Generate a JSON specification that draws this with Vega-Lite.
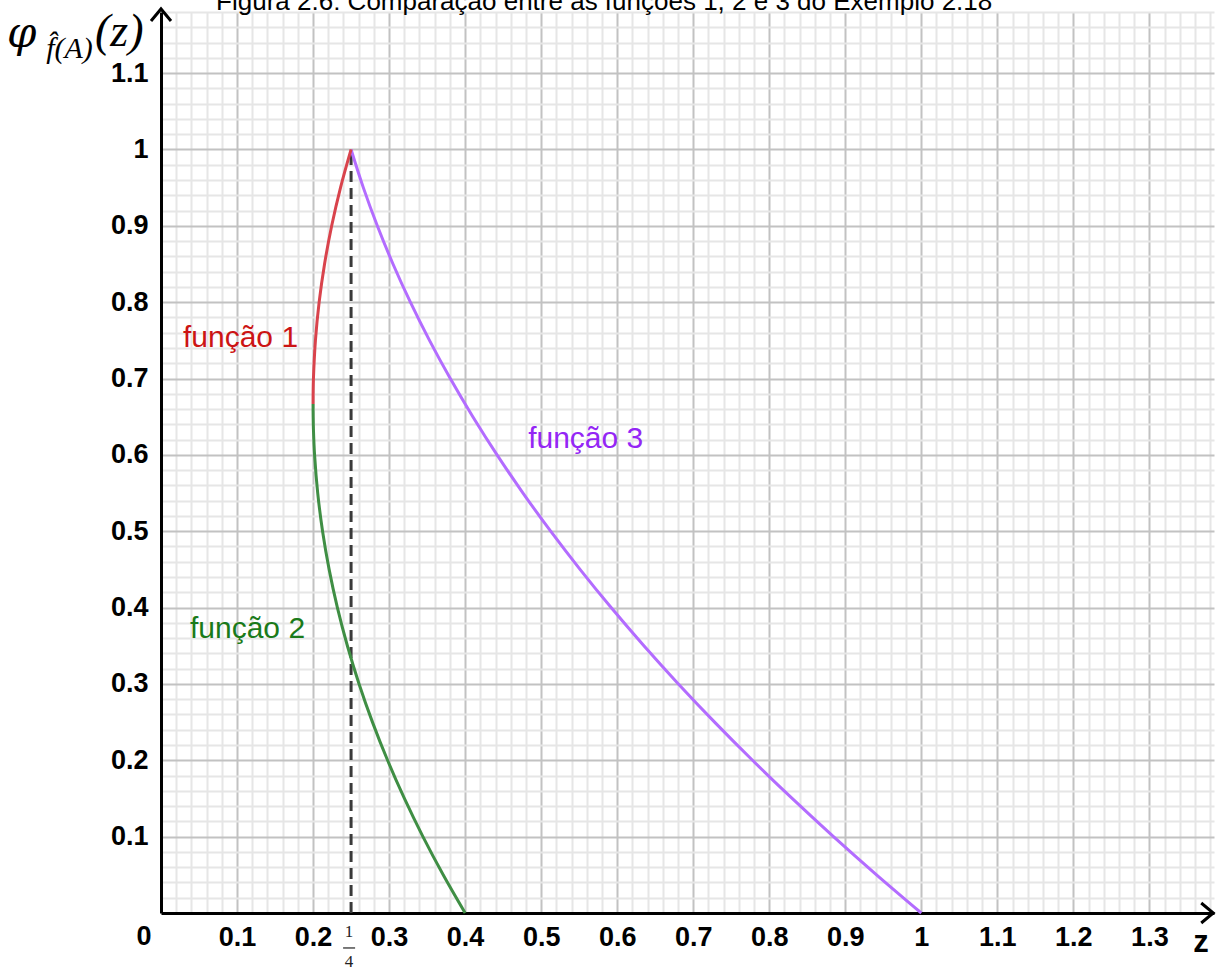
{
  "$schema": "https://vega.github.io/schema/vega-lite/v6.json",
  "width": 1053,
  "height": 901,
  "autosize": {"type": "none"},
  "padding": {"left": 161, "top": 12, "right": 8, "bottom": 57},
  "background": "white",
  "config": {"view": {"stroke": null}},
  "datasets": {
    "curves": [
      {"fn": "função 3", "z": 1, "phi": 0},
      {"fn": "função 3", "z": 0.94113, "phi": 0.05},
      {"fn": "função 3", "z": 0.8845, "phi": 0.1},
      {"fn": "função 3", "z": 0.83013, "phi": 0.15},
      {"fn": "função 3", "z": 0.778, "phi": 0.2},
      {"fn": "função 3", "z": 0.72813, "phi": 0.25},
      {"fn": "função 3", "z": 0.6805, "phi": 0.3},
      {"fn": "função 3", "z": 0.63513, "phi": 0.35},
      {"fn": "função 3", "z": 0.592, "phi": 0.4},
      {"fn": "função 3", "z": 0.55113, "phi": 0.45},
      {"fn": "função 3", "z": 0.5125, "phi": 0.5},
      {"fn": "função 3", "z": 0.47613, "phi": 0.55},
      {"fn": "função 3", "z": 0.442, "phi": 0.6},
      {"fn": "função 3", "z": 0.41013, "phi": 0.65},
      {"fn": "função 3", "z": 0.3805, "phi": 0.7},
      {"fn": "função 3", "z": 0.35313, "phi": 0.75},
      {"fn": "função 3", "z": 0.328, "phi": 0.8},
      {"fn": "função 3", "z": 0.30513, "phi": 0.85},
      {"fn": "função 3", "z": 0.2845, "phi": 0.9},
      {"fn": "função 3", "z": 0.26613, "phi": 0.95},
      {"fn": "função 3", "z": 0.25, "phi": 1},
      {"fn": "função 1", "z": 0.2, "phi": 0.6667},
      {"fn": "função 1", "z": 0.200125, "phi": 0.6833},
      {"fn": "função 1", "z": 0.2005, "phi": 0.7},
      {"fn": "função 1", "z": 0.203125, "phi": 0.75},
      {"fn": "função 1", "z": 0.208, "phi": 0.8},
      {"fn": "função 1", "z": 0.215125, "phi": 0.85},
      {"fn": "função 1", "z": 0.2245, "phi": 0.9},
      {"fn": "função 1", "z": 0.236125, "phi": 0.95},
      {"fn": "função 1", "z": 0.25, "phi": 1},
      {"fn": "função 2", "z": 0.4, "phi": 0},
      {"fn": "função 2", "z": 0.371125, "phi": 0.05},
      {"fn": "função 2", "z": 0.3445, "phi": 0.1},
      {"fn": "função 2", "z": 0.320125, "phi": 0.15},
      {"fn": "função 2", "z": 0.298, "phi": 0.2},
      {"fn": "função 2", "z": 0.278125, "phi": 0.25},
      {"fn": "função 2", "z": 0.2605, "phi": 0.3},
      {"fn": "função 2", "z": 0.245125, "phi": 0.35},
      {"fn": "função 2", "z": 0.232, "phi": 0.4},
      {"fn": "função 2", "z": 0.221125, "phi": 0.45},
      {"fn": "função 2", "z": 0.2125, "phi": 0.5},
      {"fn": "função 2", "z": 0.206125, "phi": 0.55},
      {"fn": "função 2", "z": 0.202, "phi": 0.6},
      {"fn": "função 2", "z": 0.2005, "phi": 0.6333},
      {"fn": "função 2", "z": 0.200125, "phi": 0.65},
      {"fn": "função 2", "z": 0.2, "phi": 0.6667}
    ]
  },
  "encoding": {
    "x": {
      "field": "z", "type": "quantitative",
      "scale": {"domain": [0, 1.385], "nice": false, "zero": false},
      "axis": {
        "title": null,
        "values": [0.02,0.04,0.06,0.08,0.1,0.12,0.14,0.16,0.18,0.2,0.22,0.24,0.26,0.28,0.3,0.32,0.34,0.36,0.38,0.4,0.42,0.44,0.46,0.48,0.5,0.52,0.54,0.56,0.58,0.6,0.62,0.64,0.66,0.68,0.7,0.72,0.74,0.76,0.78,0.8,0.82,0.84,0.86,0.88,0.9,0.92,0.94,0.96,0.98,1,1.02,1.04,1.06,1.08,1.1,1.12,1.14,1.16,1.18,1.2,1.22,1.24,1.26,1.28,1.3,1.32,1.34,1.36,1.38],
        "grid": true,
        "gridColor": {"condition": {"test": "abs(datum.value*10 - round(datum.value*10)) < 0.001", "value": "#c2c2c2"}, "value": "#e6e6e6"},
        "gridWidth": 2,
        "ticks": false,
        "domain": true,
        "domainColor": "#000000",
        "domainWidth": 3,
        "labelExpr": "abs(datum.value*10 - round(datum.value*10)) < 0.001 ? format(datum.value, '.1~f') : ''",
        "labelOverlap": false,
        "labelFlush": false,
        "labelBound": false,
        "labelPadding": 11,
        "labelFont": "Liberation Sans Narrow, Arial Narrow, Liberation Sans",
        "labelFontSize": 27,
        "labelFontWeight": "bold",
        "labelColor": "#000000"
      }
    },
    "y": {
      "field": "phi", "type": "quantitative",
      "scale": {"domain": [0, 1.18], "nice": false, "zero": false},
      "axis": {
        "title": null,
        "values": [0.02,0.04,0.06,0.08,0.1,0.12,0.14,0.16,0.18,0.2,0.22,0.24,0.26,0.28,0.3,0.32,0.34,0.36,0.38,0.4,0.42,0.44,0.46,0.48,0.5,0.52,0.54,0.56,0.58,0.6,0.62,0.64,0.66,0.68,0.7,0.72,0.74,0.76,0.78,0.8,0.82,0.84,0.86,0.88,0.9,0.92,0.94,0.96,0.98,1,1.02,1.04,1.06,1.08,1.1,1.12,1.14,1.16,1.18],
        "grid": true,
        "gridColor": {"condition": {"test": "abs(datum.value*10 - round(datum.value*10)) < 0.001", "value": "#c2c2c2"}, "value": "#e6e6e6"},
        "gridWidth": 2,
        "ticks": false,
        "domain": true,
        "domainColor": "#000000",
        "domainWidth": 3,
        "labelExpr": "abs(datum.value*10 - round(datum.value*10)) < 0.001 ? format(datum.value, '.1~f') : ''",
        "labelOverlap": false,
        "labelFlush": false,
        "labelBound": false,
        "labelPadding": 13,
        "labelFont": "Liberation Sans Narrow, Arial Narrow, Liberation Sans",
        "labelFontSize": 27,
        "labelFontWeight": "bold",
        "labelColor": "#000000"
      }
    }
  },
  "layer": [
    {
      "data": {"values": [{"z": 0.25, "phi": 0, "phi2": 1}]},
      "mark": {"type": "rule", "color": "#3a3a3a", "strokeWidth": 3, "strokeDash": [11, 6]},
      "encoding": {"y2": {"field": "phi2"}}
    },
    {
      "data": {"name": "curves"},
      "mark": {"type": "line", "strokeWidth": 3, "interpolate": "catmull-rom"},
      "encoding": {
        "color": {"field": "fn", "type": "nominal", "legend": null,
          "scale": {"domain": ["função 1", "função 2", "função 3"], "range": ["#d9434c", "#3f8e44", "#b36cff"]}},
        "order": {"field": "phi", "type": "quantitative"}
      }
    },
    {
      "data": {"values": [{"dir": "up", "z": 0, "phi": 1.184}, {"dir": "right", "z": 1.384, "phi": 0}]},
      "mark": {"type": "point", "filled": false, "stroke": "#000000", "strokeWidth": 3, "size": 400, "opacity": 1},
      "encoding": {
        "shape": {"field": "dir", "type": "nominal", "legend": null,
          "scale": {"domain": ["up", "right"], "range": ["M-1,1.2L0,0L1,1.2", "M-1.2,-1L0,0L-1.2,1"]}}
      }
    },
    {
      "data": {"values": [{"label": "função 1", "z": 0.1046, "phi": 0.7412}]},
      "mark": {"type": "text", "font": "Liberation Sans", "fontSize": 30, "color": "#cc1414", "align": "center", "baseline": "alphabetic"},
      "encoding": {"text": {"field": "label"}}
    },
    {
      "data": {"values": [{"label": "função 2", "z": 0.1138, "phi": 0.3601}]},
      "mark": {"type": "text", "font": "Liberation Sans", "fontSize": 30, "color": "#1a7a1a", "align": "center", "baseline": "alphabetic"},
      "encoding": {"text": {"field": "label"}}
    },
    {
      "data": {"values": [{"label": "função 3", "z": 0.5586, "phi": 0.609}]},
      "mark": {"type": "text", "font": "Liberation Sans", "fontSize": 30, "color": "#9426f5", "align": "center", "baseline": "alphabetic"},
      "encoding": {"text": {"field": "label"}}
    },
    {
      "data": {"values": [{"label": "Figura 2.6: Comparação entre as funções 1, 2 e 3 do Exemplo 2.18", "z": 0.5829, "phi": 1.1826}]},
      "mark": {"type": "text", "font": "Liberation Sans", "fontSize": 26, "color": "#000000", "align": "center", "baseline": "alphabetic"},
      "encoding": {"text": {"field": "label"}}
    },
    {
      "data": {"values": [{"label": "0", "z": -0.0224, "phi": -0.0144}]},
      "mark": {"type": "text", "font": "Liberation Sans Narrow, Arial Narrow, Liberation Sans", "fontSize": 27, "fontWeight": "bold", "color": "#000000", "align": "center", "baseline": "top"},
      "encoding": {"text": {"field": "label"}}
    },
    {
      "data": {"values": [{"label": "z", "z": 1.3678, "phi": -0.0511}]},
      "mark": {"type": "text", "font": "Liberation Sans", "fontSize": 31, "fontWeight": "bold", "color": "#000000", "align": "center", "baseline": "alphabetic"},
      "encoding": {"text": {"field": "label"}}
    },
    {
      "data": {"values": [{"label": "1", "z": 0.2474, "phi": -0.0314}, {"label": "4", "z": 0.2474, "phi": -0.0707}]},
      "mark": {"type": "text", "font": "Liberation Serif", "fontSize": 17, "color": "#222222", "align": "center", "baseline": "alphabetic"},
      "encoding": {"text": {"field": "label"}}
    },
    {
      "data": {"values": [{"z": 0.2395, "z2": 0.2553, "phi": -0.0458}]},
      "mark": {"type": "rule", "color": "#222222", "strokeWidth": 1.2},
      "encoding": {"x2": {"field": "z2"}}
    },
    {
      "data": {"values": [{"label": "φ", "z": -0.2026, "phi": 1.1341}]},
      "mark": {"type": "text", "font": "DejaVu Serif", "fontSize": 42, "fontStyle": "italic", "color": "#000000", "align": "left", "baseline": "alphabetic"},
      "encoding": {"text": {"field": "label"}}
    },
    {
      "data": {"values": [{"label": "(z)", "z": -0.0868, "phi": 1.1354}]},
      "mark": {"type": "text", "font": "Liberation Serif", "fontSize": 46, "fontStyle": "italic", "color": "#000000", "align": "left", "baseline": "alphabetic"},
      "encoding": {"text": {"field": "label"}}
    },
    {
      "data": {"values": [{"label": "f̂(A)", "z": -0.151, "phi": 1.1197}]},
      "mark": {"type": "text", "font": "Liberation Serif", "fontSize": 30, "fontStyle": "italic", "color": "#000000", "align": "left", "baseline": "alphabetic"},
      "encoding": {"text": {"field": "label"}}
    }
  ]
}
